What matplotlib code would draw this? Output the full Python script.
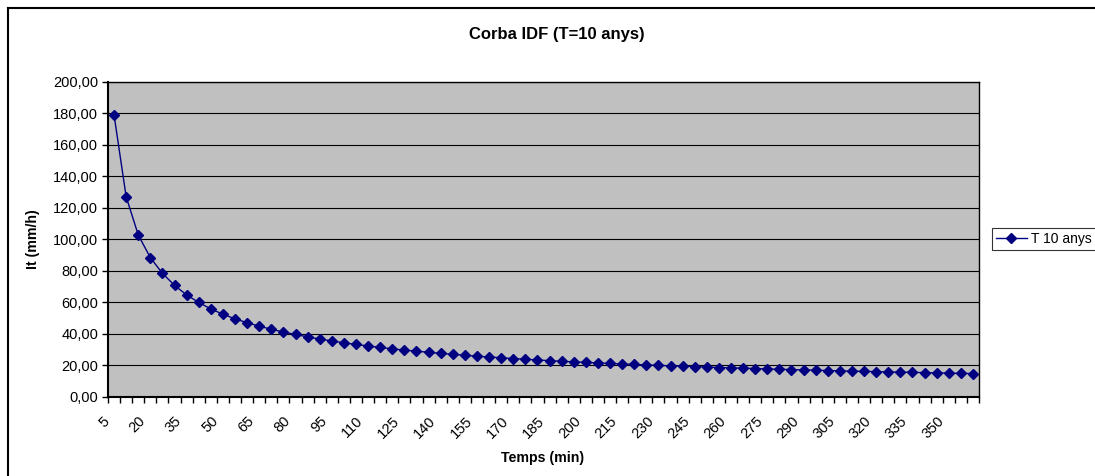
import matplotlib
matplotlib.use("Agg")
import matplotlib.pyplot as plt
from matplotlib.lines import Line2D
from matplotlib.transforms import ScaledTranslation
import numpy as np

plt.rcParams['font.family'] = ['Liberation Sans', 'DejaVu Sans']

# durations (min) and intensity (mm/h) for T = 10 years
temps = list(range(5, 365, 5))
intensitat = [178.9, 127.0, 102.7, 88.3, 78.3, 70.7, 64.6, 59.9, 55.7, 52.4,
              49.4, 47.0, 44.8, 42.8, 41.1, 39.5, 38.0, 36.6, 35.4, 34.2,
              33.2, 32.2, 31.3, 30.4, 29.6, 28.9, 28.2, 27.5, 26.9, 26.3,
              25.7, 25.2, 24.7, 24.2, 23.8, 23.3, 22.9, 22.5, 22.1, 21.8,
              21.4, 21.1, 20.8, 20.5, 20.2, 19.9, 19.6, 19.4, 19.1, 18.8,
              18.5, 18.3, 18.1, 17.9, 17.6, 17.4, 17.2, 17.0, 16.8, 16.6,
              16.4, 16.2, 16.1, 15.9, 15.7, 15.6, 15.4, 15.3, 15.1, 15.0,
              14.8, 14.7]
serie = "T 10 anys"
y_ticks = [0, 20, 40, 60, 80, 100, 120, 140, 160, 180, 200]

W, H = 1095, 476
fig = plt.figure(figsize=(W / 100, H / 100), dpi=100)
ax = fig.add_axes([108 / W, 1 - 396.7 / H, (979 - 108) / W, (396.7 - 81.7) / H])
ax.set_facecolor('#C0C0C0')

idx = np.arange(len(temps))
ax.plot(idx, intensitat, color='#000080', lw=1.0, marker='D', ms=5.5,
        label=serie)

ax.set_xlim(-0.5, len(temps) - 0.5)
ax.set_ylim(0, 200)
ax.set_yticks(y_ticks)
ax.set_yticklabels([f"{v:.2f}".replace('.', ',') for v in y_ticks], fontsize=10.5)
ax.grid(axis='y', color='black', lw=0.8)
ax.set_axisbelow(True)

# tick marks on category boundaries, labels every 3rd category
bounds = np.arange(len(temps) + 1) - 0.5
ax.set_xticks(bounds)
labs = [str(temps[i]) if (i < len(temps) and i % 3 == 0) else '' for i in range(len(bounds))]
ax.set_xticklabels(labs, rotation=45, ha='right', rotation_mode='anchor', fontsize=10.5)
ax.tick_params(axis='x', length=4, width=1, pad=7)
ax.tick_params(axis='y', length=4, width=1, pad=3)
shift = ScaledTranslation(-6 / 100, -2 / 100, fig.dpi_scale_trans)
for lab in ax.get_xticklabels():
    lab.set_transform(lab.get_transform() + shift)

for s in ['left', 'bottom']:
    ax.spines[s].set_linewidth(1.5)
for s in ['top', 'right']:
    ax.spines[s].set_linewidth(1.0)

fig.text(557 / W, 1 - 35 / H, "Corba IDF (T=10 anys)", ha='center', va='center',
         fontsize=12, fontweight='bold')
fig.text(543 / W, 1 - 458 / H, "Temps (min)", ha='center', va='center',
         fontsize=10.2, fontweight='bold')
fig.text(33 / W, 1 - 239 / H, "It (mm/h)", ha='center', va='center',
         rotation=90, fontsize=10.2, fontweight='bold')

leg = fig.legend(loc='center left', bbox_to_anchor=(992 / W, 1 - 239 / H),
                 fontsize=10, frameon=True, fancybox=False, borderaxespad=0,
                 handlelength=2.2, borderpad=0.3, handletextpad=0.3)
leg.get_frame().set_edgecolor('black')
leg.get_frame().set_linewidth(0.8)

# outer chart border (top and left only visible)
fig.add_artist(Line2D([8 / W, 8 / W], [0, 1 - 8 / H], color='black', lw=1.5,
                      transform=fig.transFigure))
fig.add_artist(Line2D([8 / W, 1], [1 - 8 / H, 1 - 8 / H], color='black', lw=1.5,
                      transform=fig.transFigure))

fig.savefig('out.png', dpi=100)
